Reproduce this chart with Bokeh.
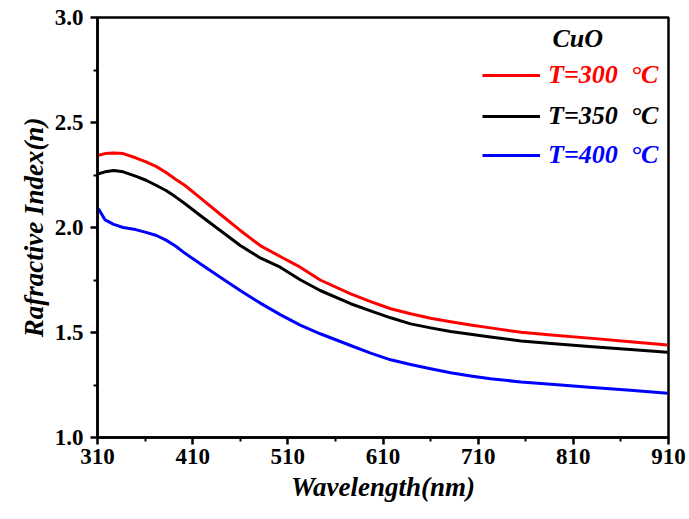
from bokeh.plotting import figure
from bokeh.models import FixedTicker, Legend, LegendItem, Label, CustomJSTickFormatter
from bokeh.embed import file_html
from bokeh.resources import INLINE

# Data
wavelength = [311, 318, 327, 337, 350, 361, 372, 382, 392, 402, 418, 439, 460, 481, 502, 523, 544, 576,
              597, 618, 639, 660, 681, 702, 723, 755, 790, 830, 870, 909]
n_300 = [2.344, 2.352, 2.355, 2.352, 2.332, 2.312, 2.290, 2.262, 2.230, 2.200, 2.141, 2.063, 1.986, 1.914,
         1.862, 1.811, 1.750, 1.684, 1.647, 1.613, 1.589, 1.568, 1.551, 1.536, 1.522, 1.501, 1.487, 1.472,
         1.456, 1.441]
n_350 = [2.256, 2.265, 2.271, 2.265, 2.245, 2.225, 2.200, 2.176, 2.146, 2.113, 2.057, 1.986, 1.914, 1.855,
         1.811, 1.751, 1.700, 1.637, 1.603, 1.570, 1.541, 1.522, 1.505, 1.492, 1.479, 1.460, 1.447, 1.432,
         1.419, 1.406]
n_400 = [2.089, 2.036, 2.015, 2.000, 1.990, 1.977, 1.962, 1.940, 1.912, 1.877, 1.827, 1.763, 1.700, 1.640,
         1.585, 1.535, 1.494, 1.438, 1.402, 1.370, 1.348, 1.327, 1.308, 1.293, 1.280, 1.264, 1.252, 1.238,
         1.225, 1.211]
series_labels = ["T=300  \u00b0C", "T=350  \u00b0C", "T=400  \u00b0C"]
series_colors = ["#ff0000", "#000000", "#0000ff"]
x_ticks = [310, 410, 510, 610, 710, 810, 910]
x_minor = [360, 460, 560, 660, 760, 860]
y_ticks = [1.0, 1.5, 2.0, 2.5, 3.0]
y_minor = [1.25, 1.75, 2.25, 2.75]

FONT = "Liberation Serif"

p = figure(width=689, height=519, output_backend="svg", toolbar_location=None,
           x_range=(310, 910), y_range=(1.0, 3.0))
p.min_border_left = 97
p.min_border_right = 21
p.min_border_top = 17
p.min_border_bottom = 82
p.grid.visible = False
p.outline_line_color = "black"
p.outline_line_width = 2.5
p.background_fill_color = "white"
p.border_fill_color = "white"

renderers = []
for ys, c in zip([n_300, n_350, n_400], series_colors):
    r = p.line(wavelength, ys, line_color=c, line_width=3, line_join="round")
    renderers.append(r)

for ax in (p.xaxis[0], p.yaxis[0]):
    ax.axis_line_width = 2.5
    ax.major_tick_line_width = 2.5
    ax.minor_tick_line_width = 2
    ax.major_tick_out = 7
    ax.major_tick_in = 0
    ax.minor_tick_out = 4
    ax.minor_tick_in = 0
    ax.major_label_text_font = FONT
    ax.major_label_text_font_style = "bold"
    ax.major_label_text_font_size = "23px"
    ax.major_label_text_color = "black"
    ax.axis_label_text_font = FONT
    ax.axis_label_text_font_style = "bold italic"
    ax.axis_label_text_color = "black"
    ax.axis_label_text_font_size = "27px"

p.xaxis[0].ticker = FixedTicker(ticks=x_ticks, minor_ticks=x_minor)
p.yaxis[0].ticker = FixedTicker(ticks=y_ticks, minor_ticks=y_minor)
p.yaxis[0].formatter = CustomJSTickFormatter(code="return tick.toFixed(1);")
p.xaxis[0].major_label_standoff = 4
p.yaxis[0].major_label_standoff = 7
p.xaxis[0].axis_label = "Wavelength(nm)"
p.yaxis[0].axis_label = "Rafractive Index(n)"
p.xaxis[0].axis_label_standoff = 5
p.yaxis[0].axis_label_standoff = 3

# Legends (one per series so each label takes its line colour)
bottoms = [347, 306, 267]
for r, lab, c, yb in zip(renderers, series_labels, series_colors, bottoms):
    lg = Legend(items=[LegendItem(label=lab, renderers=[r])], location=(385, yb))
    lg.label_text_color = c
    lg.label_text_font = FONT
    lg.label_text_font_style = "bold italic"
    lg.label_text_font_size = "26px"
    lg.glyph_width = 58
    lg.glyph_height = 30
    lg.label_height = 30
    lg.label_standoff = 8
    lg.padding = 0
    lg.margin = 0
    lg.spacing = 0
    lg.border_line_color = None
    lg.background_fill_alpha = 0
    p.add_layout(lg)

p.add_layout(Label(x=788, y=2.90, text="CuO", text_font=FONT, text_font_style="bold italic",
                   text_font_size="26px", text_color="black", text_baseline="middle",
                   text_align="left"))

open("out.html", "w").write(file_html(p, INLINE))
